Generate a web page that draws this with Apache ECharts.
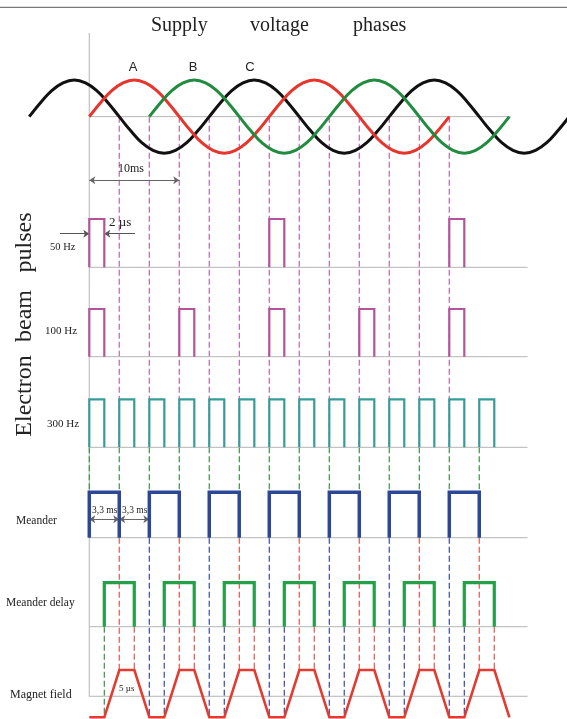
<!DOCTYPE html>
<html>
<head>
<meta charset="utf-8">
<script src="https://cdn.jsdelivr.net/npm/echarts@6/dist/echarts.min.js"></script>
<style>html,body{margin:0;padding:0;background:#fff}#c{width:567px;height:719px}</style>
</head>
<body>
<div id="c"></div>
<script>
// ===== DATA (time in ms) =====
// Supply voltage phases: start time, sample step, relative amplitudes
const sampleStep = 1.25;
const phaseAStart = 0;
const phaseA = [0,0.38,0.71,0.92,1,0.92,0.71,0.38,0,-0.38,-0.71,-0.92,-1,-0.92,-0.71,-0.38,
                0,0.38,0.71,0.92,1,0.92,0.71,0.38,0,-0.38,-0.71,-0.92,-1,-0.92,-0.71,-0.38,0];
const phaseBStart = 6.67;
const phaseB = [0,0.38,0.71,0.92,1,0.92,0.71,0.38,0,-0.38,-0.71,-0.92,-1,-0.92,-0.71,-0.38,
                0,0.38,0.71,0.92,1,0.92,0.71,0.38,0,-0.38,-0.71,-0.92,-1,-0.92,-0.71,-0.38,0];
const phaseCStart = -6.67;
const phaseC = [0,0.38,0.71,0.92,1,0.92,0.71,0.38,0,-0.38,-0.71,-0.92,-1,-0.92,-0.71,-0.38,
                0,0.38,0.71,0.92,1,0.92,0.71,0.38,0,-0.38,-0.71,-0.92,-1,-0.92,-0.71,-0.38,
                0,0.38,0.71,0.92,1,0.92,0.71,0.38,0,-0.38,-0.71,-0.92,-1,-0.92,-0.71,-0.38,0];
const phaseLabels = ['A','B','C'];

// Electron beam pulses: start times, width
const pulses50  = [0, 20, 40];
const pulses100 = [0, 10, 20, 30, 40];
const pulses300 = [0, 3.33, 6.67, 10, 13.33, 16.67, 20, 23.33, 26.67, 30, 33.33, 36.67, 40, 43.33];
const pulseWidth = 1.67;

// Meander / delayed meander: high-level start times, width
const meanderStarts = [0, 6.67, 13.33, 20, 26.67, 33.33, 40];
const delayStarts   = [1.67, 8.33, 15, 21.67, 28.33, 35, 41.67];
const meanderWidth  = 3.33;

// Magnet field: ramp starts, ramp time, plateau time, levels
const magnetRiseStarts = [1.67, 8.33, 15, 21.67, 28.33, 35, 41.67];
const magnetRamp = 1.67, magnetPlateau = 1.67;
const magnetLow = -0.8, magnetHigh = 1;

// Phase-crossing marks (ms)
const phaseMarks = [3.33, 6.67, 10, 13.33, 16.67, 20, 23.33, 26.67, 30, 33.33, 36.67, 40];
const meanderFalls = [3.33, 10, 16.67, 23.33, 30, 36.67, 43.33];
const meanderRises = [6.67, 13.33, 20, 26.67, 33.33, 40];
const delayFalls   = [5, 11.67, 18.33, 25, 31.67, 38.33, 45];

// ===== LAYOUT =====
const X_MIN = -9.92, X_MAX = 53.08;
const Y = {
  rule: 7.3, axisTop: 33,
  sineMid: 116.7, sineTop: 80, sineH: 73.3,
  r50Top: 219, r50Base: 267.3,
  r100Top: 309, r100Base: 356.7,
  r300Top: 399.3, r300Base: 447.3,
  meaTop: 492.3, meaBase: 537.7,
  delTop: 582.7, delBase: 626.7,
  magTop: 670, magBase: 696.7, magBottom: 717.3,
  dim10: 180.3, dim2: 233.7, dim33: 519.3
};
const baseEnd = 48.7, sineBaseEnd = 46.8;

const C = {
  red: '#e5352c', green: '#218b3f', black: '#111111',
  mag: '#b4529c', teal: '#369c98', blue: '#2d4797', dgreen: '#23a048', mred: '#e43b31',
  dashMag: '#b866ad', dashGreen: '#3f8f44', dashRed: '#e2554d', dashBlue: '#3b4aa3',
  gray: '#b5b5b5', text: '#222'
};
const serif = '"Liberation Serif","DejaVu Serif",serif';
const sans = '"Liberation Sans",Arial,sans-serif';

// ===== BUILD =====
const grids = [], xAxes = [], yAxes = [];
function addGrid(top, height, ymin, ymax, inverse) {
  grids.push({left: 0, right: 0, top: top, height: height, containLabel: false, outerBoundsMode: 'none'});
  const i = grids.length - 1;
  xAxes.push({type: 'value', gridIndex: i, min: X_MIN, max: X_MAX, show: false});
  yAxes.push({type: 'value', gridIndex: i, min: ymin, max: ymax, inverse: !!inverse, show: false});
  return i;
}
const gO = addGrid(0, 719, 0, 719, true);               // overlay (layout coordinates)
const gS = addGrid(Y.sineTop, Y.sineH, -1, 1);
const g50 = addGrid(Y.r50Top, Y.r50Base - Y.r50Top, 0, 1);
const g100 = addGrid(Y.r100Top, Y.r100Base - Y.r100Top, 0, 1);
const g300 = addGrid(Y.r300Top, Y.r300Base - Y.r300Top, 0, 1);
const gM = addGrid(Y.meaTop, Y.meaBase - Y.meaTop, 0, 1);
const gD = addGrid(Y.delTop, Y.delBase - Y.delTop, 0, 1);
const gF = addGrid(Y.magTop, Y.magBottom - Y.magTop, magnetLow, magnetHigh);

const series = [];
function lines(gi, data, color, width, dash, extra) {
  series.push(Object.assign({
    type: 'lines', coordinateSystem: 'cartesian2d', xAxisIndex: gi, yAxisIndex: gi,
    polyline: true, silent: true, clip: false, z: 2,
    lineStyle: {color: color, width: width, type: dash || 'solid', opacity: 1},
    data: data
  }, extra || {}));
}
const vseg = (ts, y1, y2) => ts.map(t => ({coords: [[t, y1], [t, y2]]}));
const pulseData = (starts, w) => starts.map(s => ({coords: [[s, 0], [s, 1], [s + w, 1], [s + w, 0]]}));

// overlay: rule, axis, connectors
lines(gO, [{coords: [[X_MIN, Y.rule], [X_MAX, Y.rule]]}], '#7a7a7a', 1.2);
lines(gO, [{coords: [[0, Y.axisTop], [0, Y.magBase]]}], C.gray, 1);
const dash = [6, 3];
lines(gO, vseg(phaseMarks, Y.sineMid, Y.r300Base), C.dashMag, 1.2, dash);
lines(gO, vseg(pulses300, Y.r300Base, Y.meaTop), C.dashGreen, 1.2, dash);
lines(gO, vseg(meanderFalls, Y.meaBase, Y.magTop), C.dashRed, 1.2, dash);
lines(gO, vseg(meanderRises, Y.meaBase, Y.magBottom), C.dashBlue, 1.2, dash);
lines(gO, vseg([delayStarts[0]], Y.delBase, Y.magBottom), C.dashGreen, 1.2, dash);
lines(gO, vseg(delayStarts.slice(1), Y.delBase, Y.magBottom), C.dashBlue, 1.2, dash);
lines(gO, vseg(delayFalls, Y.delBase, Y.magTop), C.dashRed, 1.2, dash);

// dimension arrows (non-polyline so end symbols are drawn)
const arrowBoth = {polyline: false, symbol: ['arrow', 'arrow'], symbolSize: 6};
lines(gO, [{coords: [[0, Y.dim10], [10, Y.dim10]]}], '#666', 1, 'solid', arrowBoth);
lines(gO, [{coords: [[-3.26, Y.dim2], [0, Y.dim2]]}, {coords: [[5.08, Y.dim2], [pulseWidth, Y.dim2]]}], '#555', 1, 'solid',
  {polyline: false, symbol: ['none', 'arrow'], symbolSize: 6});
lines(gO, [{coords: [[0, Y.dim33], [3.33, Y.dim33]]}, {coords: [[3.33, Y.dim33], [6.67, Y.dim33]]}], '#666', 1, 'solid', arrowBoth);

// baselines
lines(gS, [{coords: [[0, 0], [sineBaseEnd, 0]]}], C.gray, 1);
[g50, g100, g300, gM, gD].forEach(g => lines(g, [{coords: [[0, 0], [baseEnd, 0]]}], C.gray, 1));
lines(gF, [{coords: [[0, 0], [baseEnd, 0]]}], C.gray, 1);

// sine phases
function sine(start, vals, color) {
  const data = vals.map((v, i) => [start + i * sampleStep, v]);
  series.push({type: 'line', xAxisIndex: gS, yAxisIndex: gS, data: data, smooth: 0.4, showSymbol: false,
    clip: false, silent: true, z: 3, lineStyle: {color: color, width: 3}});
}
sine(phaseCStart, phaseC, C.black);
sine(phaseAStart, phaseA, C.red);
sine(phaseBStart, phaseB, C.green);

// pulses
lines(g50, pulseData(pulses50, pulseWidth), C.mag, 2.2, 'solid', {z: 4});
lines(g100, pulseData(pulses100, pulseWidth), C.mag, 2.2, 'solid', {z: 4});
lines(g300, pulseData(pulses300, pulseWidth), C.teal, 2.2, 'solid', {z: 4});
lines(gM, pulseData(meanderStarts, meanderWidth), C.blue, 3.5, 'solid', {z: 4});
lines(gD, pulseData(delayStarts, meanderWidth), C.dgreen, 3.2, 'solid', {z: 4});

// magnet field trapezoid
const magCoords = [[0, magnetLow]];
magnetRiseStarts.forEach(r => {
  magCoords.push([r, magnetLow], [r + magnetRamp, magnetHigh],
    [r + magnetRamp + magnetPlateau, magnetHigh], [r + 2 * magnetRamp + magnetPlateau, magnetLow]);
});
lines(gF, [{coords: magCoords}], C.mred, 2.6, 'solid', {z: 4});

// ===== TEXT =====
const T = (text, x, y, size, font, align, extra) => Object.assign({
  type: 'text', x: x, y: y, silent: true, z: 10,
  style: {text: text, font: size + 'px ' + font, fill: C.text, textAlign: align || 'left', textVerticalAlign: 'middle'}
}, extra || {});
const graphic = [
  T('Supply', 151, 26, 20, serif),
  T('voltage', 250, 26, 20, serif),
  T('phases', 353, 26, 20, serif),
  T(phaseLabels[0], 133, 67, 13, sans, 'center'),
  T(phaseLabels[1], 193, 67, 13, sans, 'center'),
  T(phaseLabels[2], 250, 67, 13, sans, 'center'),
  T('10ms', 118, 169, 12, serif),
  T('2 µs', 109, 223, 13, serif),
  T('50 Hz', 50, 247, 10.5, serif),
  T('100 Hz', 45, 331, 11, serif),
  T('300 Hz', 47, 424, 11, serif),
  T('Electron', 25, 396, 24, serif, 'center', {rotation: Math.PI / 2}),
  T('beam', 25, 316, 24, serif, 'center', {rotation: Math.PI / 2}),
  T('pulses', 25, 242.5, 24, serif, 'center', {rotation: Math.PI / 2}),
  T('Meander', 16, 521, 11.5, serif),
  T('Meander delay', 6, 603, 11.5, serif),
  T('Magnet field', 10, 695, 12, serif),
  T('3,3 ms', 92, 510, 9.5, serif),
  T('3,3 ms', 122, 510, 9.5, serif),
  T('5 µs', 119, 689, 9, serif)
];

const chart = echarts.init(document.getElementById('c'), null, {renderer: 'canvas'});
chart.setOption({
  animation: false,
  backgroundColor: '#fff',
  grid: grids, xAxis: xAxes, yAxis: yAxes,
  series: series,
  graphic: graphic
});
</script>
</body>
</html>
